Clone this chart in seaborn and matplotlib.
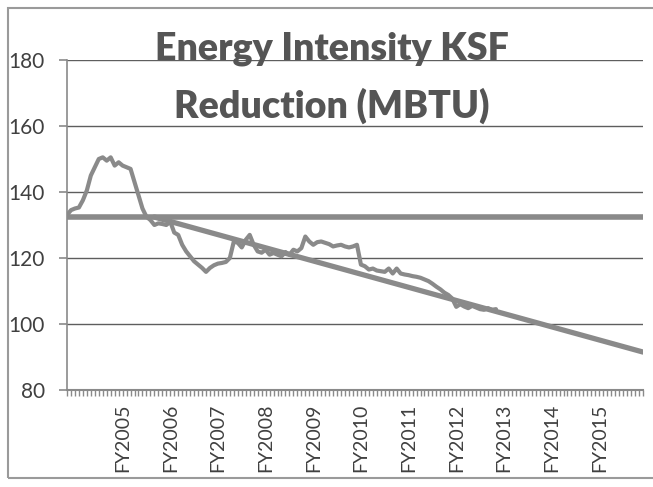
import matplotlib
matplotlib.use("Agg")
import matplotlib.pyplot as plt
import seaborn as sns
import numpy as np
import pandas as pd
from matplotlib.patches import Rectangle

# monthly categories on the x axis, one label per fiscal year
n_months = 146
fy_labels = ['FY2005', 'FY2006', 'FY2007', 'FY2008', 'FY2009', 'FY2010',
             'FY2011', 'FY2012', 'FY2013', 'FY2014', 'FY2015']
fy_label_month = [14, 26, 38, 50, 62, 74, 86, 98, 110, 122, 134]

intensity = [
    133.0, 134.5, 135.0, 135.3, 137.5, 140.5, 145.0, 147.5, 150.0, 150.5,
    149.5, 150.5, 148.0, 149.0, 148.0, 147.5, 147.0, 143.0, 139.0, 135.0,
    132.5, 131.5, 130.0, 130.5, 130.3, 130.0, 131.0, 127.7, 127.0, 124.0,
    122.0, 120.5, 119.0, 118.0, 117.0, 115.8, 117.0, 117.8, 118.3, 118.5,
    118.8, 120.0, 125.0, 124.6, 123.2, 125.5, 127.0, 124.0, 122.0, 121.6,
    122.5, 121.0, 121.5, 121.0, 120.5, 121.8, 121.0, 122.5, 122.0, 123.0,
    126.5, 125.0, 124.0, 124.8, 125.0, 124.6, 124.2, 123.5, 123.8, 124.0,
    123.5, 123.2, 123.5, 124.0, 118.0, 117.5, 116.5, 116.8, 116.2, 116.0,
    115.8, 116.8, 115.3, 116.8, 115.3, 115.0, 114.8, 114.5, 114.3, 114.0,
    113.5, 113.0, 112.2, 111.3, 110.5, 109.5, 108.8, 107.7, 105.2, 106.0,
    105.3, 104.8, 105.5, 105.0, 104.5, 104.3, 104.8, 104.3, 104.5,
]

# baseline level and reduction goal line
baseline_value = 132.4
goal_months = [22, 145]
goal_values = [132.4, 91.5]

line_color = '#8a8a8a'
text_color = '#404040'

sns.set_style("white")
plt.rcParams['font.family'] = ['Lato', 'DejaVu Sans']

fig = plt.figure(figsize=(6.53, 4.87), dpi=100)
ax = fig.add_axes([0.1026, 0.1992, 0.882, 0.6776])

actual = pd.DataFrame({'month': np.arange(len(intensity)), 'mbtu': intensity})
base = pd.DataFrame({'month': [0, n_months - 1], 'mbtu': [baseline_value] * 2})
goal = pd.DataFrame({'month': goal_months, 'mbtu': goal_values})

sns.lineplot(data=base, x='month', y='mbtu', ax=ax, color=line_color, lw=4.0)
sns.lineplot(data=goal, x='month', y='mbtu', ax=ax, color=line_color, lw=3.8)
sns.lineplot(data=actual, x='month', y='mbtu', ax=ax, color=line_color, lw=3.0)

ax.set_xlim(0, n_months - 1)
ax.set_ylim(80, 180)
ax.set_yticks(range(80, 181, 20))
ax.set_xlabel('')
ax.set_ylabel('')

tick_text = [''] * n_months
for m, lab in zip(fy_label_month, fy_labels):
    tick_text[m] = lab
ax.set_xticks(range(n_months))
ax.set_xticklabels(tick_text, rotation=90, fontsize=14, color=text_color)
ax.tick_params(axis='x', direction='out', length=4, width=1, color='#8a8a8a',
               pad=6, bottom=True)
ax.tick_params(axis='y', direction='out', length=6, width=1.2, color='#8a8a8a',
               pad=10, labelsize=15, labelcolor=text_color, left=True)

ax.yaxis.grid(True, color='#5e5e5e', lw=1.0)
ax.xaxis.grid(False)
ax.set_axisbelow(True)
for side in ['top', 'right']:
    ax.spines[side].set_visible(False)
ax.spines['left'].set_color('#8a8a8a')
ax.spines['left'].set_linewidth(1.2)
ax.spines['bottom'].set_color('#8a8a8a')
ax.spines['bottom'].set_linewidth(1.5)

fig.text(0.508, 0.936, 'Energy Intensity KSF\nReduction (MBTU)', ha='center',
         va='top', fontsize=27, fontweight='heavy', color='#555555',
         linespacing=1.72)

# outer chart frame
fig.patches.append(Rectangle((0.012, 0.018), 1.0, 0.966, transform=fig.transFigure,
                             fill=False, edgecolor='#9a9a9a', lw=1.5))

fig.savefig('out.png', dpi=100)
